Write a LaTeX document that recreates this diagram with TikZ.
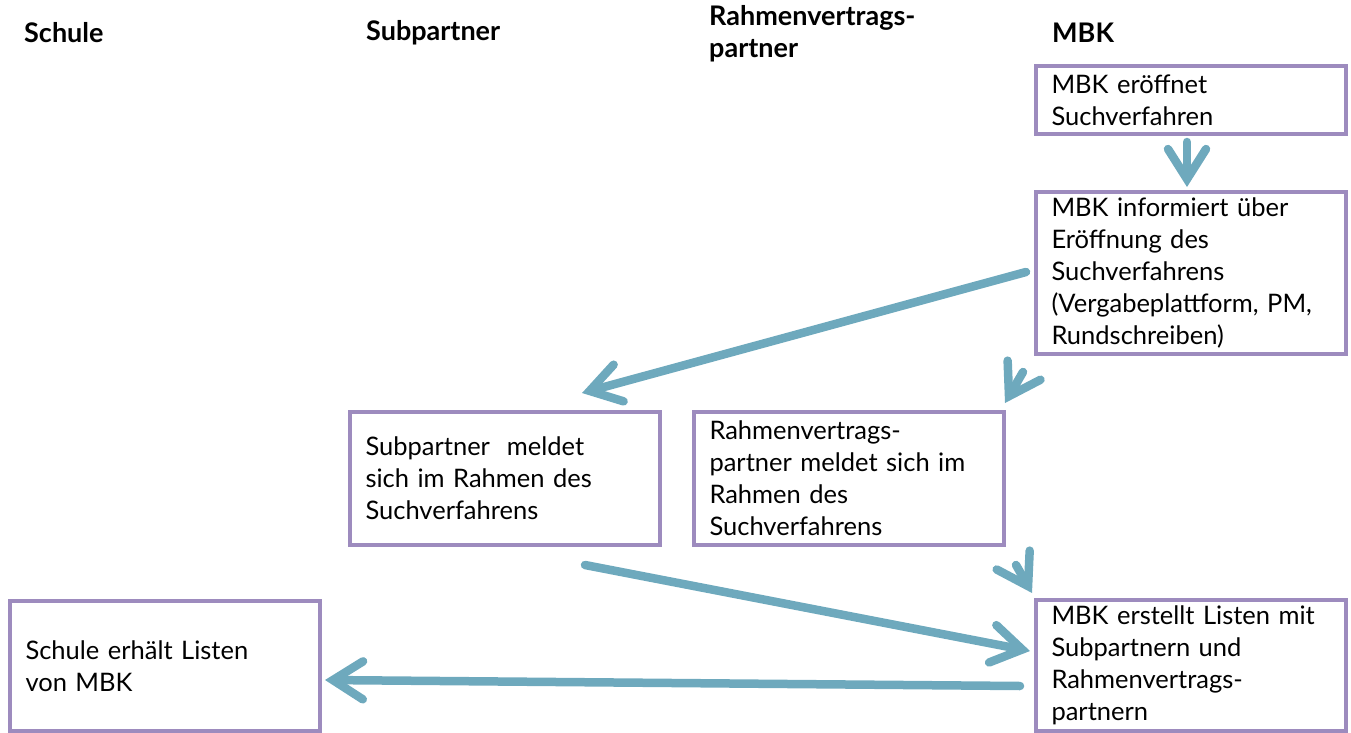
\documentclass[tikz,border=0pt]{standalone}
\usepackage{fontspec}
\setmainfont{Lato}
\usetikzlibrary{arrows.meta}
\definecolor{boxpurple}{HTML}{9D8BBE}
\definecolor{flowteal}{HTML}{6EA9BD}
\tikzset{
  box/.style={draw=boxpurple, line width=3.5pt, outer sep=0pt, minimum width=310pt, text width=279pt,
    inner xsep=15.5pt, inner ysep=0pt, align=left, anchor=north west,
    font=\fontsize{25.5}{32}\selectfont},
  head/.style={anchor=west, align=left, inner sep=0pt, font=\bfseries\fontsize{27}{32}\selectfont},
  flow/.style={draw=flowteal, line width=8.5pt, line cap=round,
    -{Straight Barb[length=30pt,width=38pt,line cap=round,line join=miter]}},
}
\begin{document}
\begin{tikzpicture}[x=1pt,y=-1pt]
\useasboundingbox (0,0) rectangle (1351,733);
% headers
\node[head] (hS) at (24,33) {Schule};
\node[head] (hSP) at (366,33) {Subpartner};
\node[head] (hR) at (709,34) {Rahmenvertrags-\\partner};
\node[head] (hM) at (1052,33) {MBK};
% boxes
\node[box, minimum height=68pt] (b1) at (1036,66) {MBK eröffnet\\Suchverfahren};
\node[box, minimum height=162pt] (b2) at (1036,192) {MBK informiert über\\Eröffnung des\\Suchverfahrens\\(Vergabeplattform, PM,\\Rundschreiben)};
\node[box, minimum height=133pt] (b3) at (350,412) {Subpartner\ \ meldet\\sich im Rahmen des\\Suchverfahrens};
\node[box, minimum height=133pt] (b4) at (694,412) {Rahmenvertrags-\\partner meldet sich im\\Rahmen des\\Suchverfahrens};
\node[box, minimum height=131pt] (b5) at (1036,600) {MBK erstellt Listen mit\\Subpartnern und\\Rahmenvertrags-\\partnern};
\node[box, minimum height=130pt] (b6) at (10,601) {Schule erhält Listen\\von MBK};
% connector ends
\coordinate (a1s) at (1187,142);
\coordinate (a1e) at (1187,187);
\coordinate (a2s) at (1026,272);
\coordinate (a2e) at (582,393);
\coordinate (a3s) at (1023,372);
\coordinate (a3e) at (1005,403);
\coordinate (a4s) at (1016,565);
\coordinate (a4e) at (1032,593);
\coordinate (a5s) at (585,565);
\coordinate (a5e) at (1030,651);
\coordinate (a6s) at (1020,686);
\coordinate (a6e) at (325,680);
% arrows
\draw[flow] (a1s) -- (a1e);
\draw[flow] (a2s) -- (a2e);
\draw[flow] (a3s) -- (a3e);
\draw[flow] (a4s) -- (a4e);
\draw[flow] (a5s) -- (a5e);
\draw[flow] (a6s) -- (a6e);
\end{tikzpicture}
\end{document}
